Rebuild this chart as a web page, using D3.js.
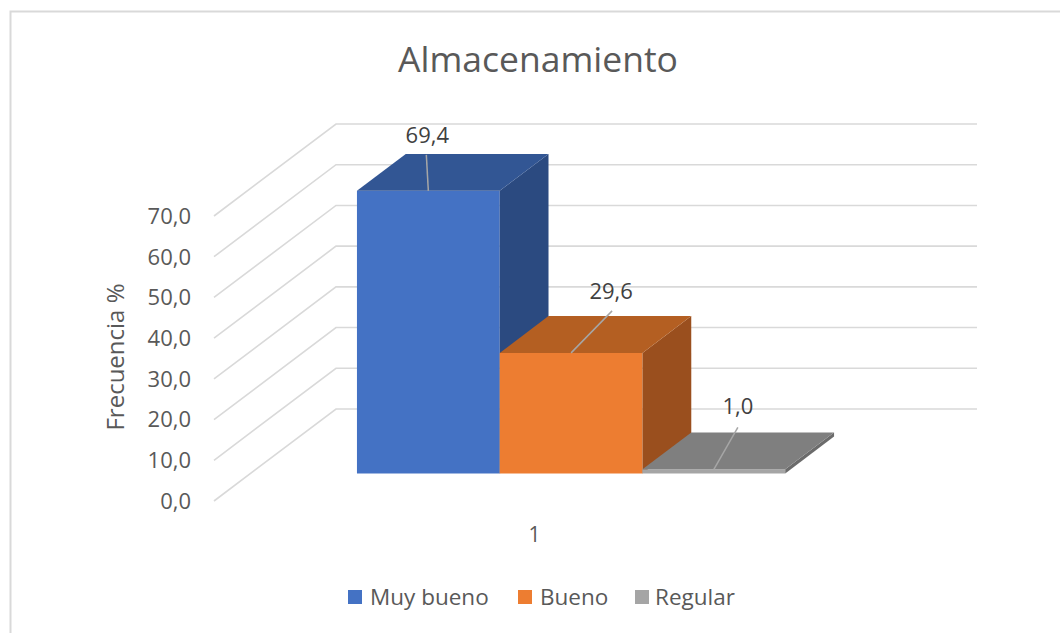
<!DOCTYPE html>
<html>
<head>
<meta charset="utf-8">
<script src="https://cdn.jsdelivr.net/npm/d3@7"></script>
<style>
  html, body { margin: 0; padding: 0; background: #fff; }
  svg { display: block; }
  text { font-family: "Open Sans", "Noto Sans", sans-serif; }
</style>
</head>
<body>
<svg id="chart" width="1060" height="633"></svg>
<script>
// ---------- data ----------
const title = "Almacenamiento";
const categories = ["1"];
const series = ["Muy bueno", "Bueno", "Regular"];
const values = [69.4, 29.6, 1.0];
const valueLabels = ["69,4", "29,6", "1,0"];
const yTicks = [0, 10, 20, 30, 40, 50, 60, 70];
const yTickLabels = ["0,0", "10,0", "20,0", "30,0", "40,0", "50,0", "60,0", "70,0"];
const yTitle = "Frecuencia %";

// ---------- styles / layout ----------
const frontColors = ["#4472C4", "#ED7D31", "#A5A5A5"];
const topColors   = ["#325694", "#B45F22", "#7F7F7F"];
const sideColors  = ["#2B4A80", "#9A4F1E", "#6B6B6B"];
// label offsets relative to front-top center of each bar [dx leader end, dy leader end, label dx, label dy]
const labelLayout = [[-2, -36, -1, -48], [41, -42, 40, -54], [24, -42, 24, -55]];

const W = 1060, H = 633;
const frontLeft = 214, frontRight = 855, floorY = 501;
const depthDx = 122, depthDy = 92;
const barD0 = 0.3, barD1 = 0.7;

const svg = d3.select("#chart");

const y = d3.scaleLinear().domain([0, 70]).range([floorY, floorY - 285]);
const xCat = d3.scaleBand().domain(categories).range([frontLeft, frontRight]);
const x = d3.scaleBand().domain(series).range(xCat.range()).paddingInner(0).paddingOuter(0.745);

const P = (px, v, d) => [px + d * depthDx, y(v) - d * depthDy];
const poly = pts => pts.map(p => p.join(",")).join(" ");

// frame
svg.append("path")
  .attr("d", `M10.5,${H} L10.5,11.5 L${W},11.5`)
  .attr("fill", "none").attr("stroke", "#d9d9d9").attr("stroke-width", 2);

// gridlines (side wall diagonal + back wall horizontal)
const grid = svg.append("g").attr("fill", "none").attr("stroke", "#d9d9d9").attr("stroke-width", 1.6);
yTicks.forEach(t => {
  const a = P(frontLeft, t, 0), b = P(frontLeft, t, 1), c = P(frontRight, t, 1);
  grid.append("polyline").attr("points", poly([a, b, c]));
});

// tick labels
svg.append("g").selectAll("text").data(yTicks).join("text")
  .attr("x", 191).attr("y", d => y(d)).attr("dy", "0.36em")
  .attr("text-anchor", "end").attr("font-size", 22).attr("fill", "#595959")
  .text((d, i) => yTickLabels[i]);

// y title
svg.append("text")
  .attr("transform", "translate(124,357) rotate(-90)")
  .attr("text-anchor", "middle").attr("font-size", 24).attr("fill", "#595959")
  .text(yTitle);

// bars
const bars = svg.append("g");
series.forEach((s, i) => {
  const x0 = x(s), x1 = x(s) + x.bandwidth(), v = values[i];
  const g = bars.append("g");
  g.append("polygon").attr("points", poly([P(x0, 0, barD0), P(x1, 0, barD0), P(x1, v, barD0), P(x0, v, barD0)]))
    .attr("fill", frontColors[i]);
  g.append("polygon").attr("points", poly([P(x1, 0, barD0), P(x1, 0, barD1), P(x1, v, barD1), P(x1, v, barD0)]))
    .attr("fill", sideColors[i]);
  g.append("polygon").attr("points", poly([P(x0, v, barD0), P(x1, v, barD0), P(x1, v, barD1), P(x0, v, barD1)]))
    .attr("fill", topColors[i]);
});

// data labels with leader lines
const labels = svg.append("g");
series.forEach((s, i) => {
  const cx = x(s) + x.bandwidth() / 2;
  const [fx, fy] = P(cx, values[i], barD0);
  const L = labelLayout[i];
  labels.append("line")
    .attr("x1", fx).attr("y1", fy).attr("x2", fx + L[0]).attr("y2", fy + L[1])
    .attr("stroke", "#a6a6a6").attr("stroke-width", 1.5);
  labels.append("text")
    .attr("x", fx + L[2]).attr("y", fy + L[3])
    .attr("text-anchor", "middle").attr("font-size", 22).attr("fill", "#404040")
    .text(valueLabels[i]);
});

// category label
svg.append("text")
  .attr("x", xCat(categories[0]) + xCat.bandwidth() / 2).attr("y", 542)
  .attr("text-anchor", "middle").attr("font-size", 21).attr("fill", "#595959")
  .text(categories[0]);

// title
svg.append("text")
  .attr("x", 538).attr("y", 72)
  .attr("text-anchor", "middle").attr("font-size", 35.5).attr("fill", "#595959")
  .text(title);

// legend
const legendItems = [{x: 348, tx: 370}, {x: 518, tx: 540}, {x: 635, tx: 655}];
const leg = svg.append("g");
series.forEach((s, i) => {
  leg.append("rect").attr("x", legendItems[i].x).attr("y", 590).attr("width", 14).attr("height", 14)
    .attr("fill", frontColors[i]);
  leg.append("text").attr("x", legendItems[i].tx).attr("y", 605)
    .attr("font-size", 22.5).attr("fill", "#595959").text(s);
});
</script>
</body>
</html>
